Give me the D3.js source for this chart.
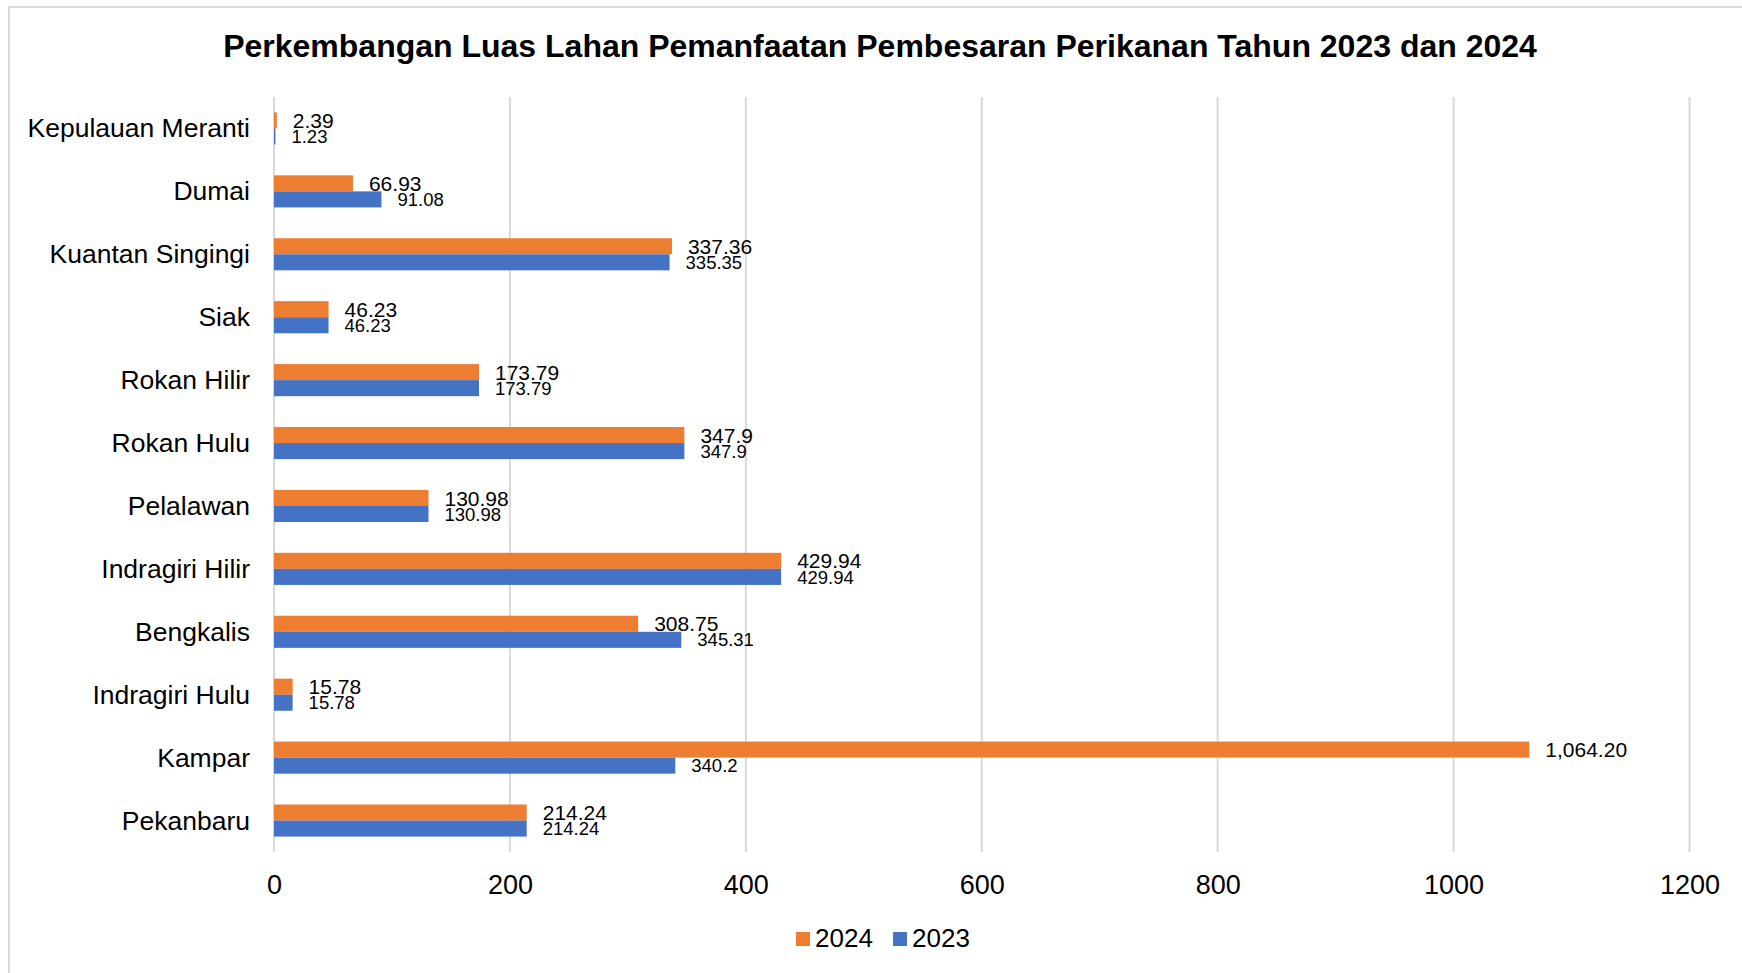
<!DOCTYPE html>
<html>
<head>
<meta charset="utf-8">
<script src="https://cdn.jsdelivr.net/npm/d3@7"></script>
<style>
  body { margin: 0; background: #fff; }
  text { font-family: "Liberation Sans", Arial, sans-serif; fill: #000; }
</style>
</head>
<body>
<div id="chart"></div>
<script>
// data, top to bottom as in the chart
const categories = ["Kepulauan Meranti", "Dumai", "Kuantan Singingi", "Siak", "Rokan Hilir", "Rokan Hulu",
  "Pelalawan", "Indragiri Hilir", "Bengkalis", "Indragiri Hulu", "Kampar", "Pekanbaru"];
const values2024 = [2.39, 66.93, 337.36, 46.23, 173.79, 347.9, 130.98, 429.94, 308.75, 15.78, 1064.20, 214.24];
const values2023 = [1.23, 91.08, 335.35, 46.23, 173.79, 347.9, 130.98, 429.94, 345.31, 15.78, 340.2, 214.24];
const labels2024 = ["2.39", "66.93", "337.36", "46.23", "173.79", "347.9", "130.98", "429.94", "308.75", "15.78", "1,064.20", "214.24"];
const labels2023 = ["1.23", "91.08", "335.35", "46.23", "173.79", "347.9", "130.98", "429.94", "345.31", "15.78", "340.2", "214.24"];
const seriesNames = ["2024", "2023"];
const xTicks = [0, 200, 400, 600, 800, 1000, 1200];

const W = 1742, H = 973;
const colors = {"2024": "#ED7D31", "2023": "#4472C4"};

const svg = d3.select("#chart").append("svg")
    .attr("width", W)
    .attr("height", H);

// outer frame (runs off the right/bottom edge like the screenshot)
svg.append("rect")
    .attr("x", 9).attr("y", 7)
    .attr("width", W + 20).attr("height", H + 20)
    .attr("fill", "#fff")
    .attr("stroke", "#d9d9d9")
    .attr("stroke-width", 2);

svg.append("text")
    .attr("x", 880).attr("y", 57)
    .attr("text-anchor", "middle")
    .style("font-size", "32px")
    .style("font-weight", "bold")
    .text("Perkembangan Luas Lahan Pemanfaatan Pembesaran Perikanan Tahun 2023 dan 2024");

const plotTop = 97, plotBottom = 852;

const x = d3.scaleLinear()
    .domain([0, 1200])
    .range([274, 1689.5]);

const y = d3.scaleBand()
    .domain(categories)
    .range([plotTop, plotBottom])
    .paddingInner(0.49)
    .paddingOuter(0.245);

const ySub = d3.scaleBand()
    .domain(seriesNames)
    .range([0, y.bandwidth()]);

// gridlines
svg.append("g")
    .selectAll("line")
    .data(xTicks)
    .join("line")
    .attr("x1", d => x(d)).attr("x2", d => x(d))
    .attr("y1", plotTop).attr("y2", plotBottom)
    .attr("stroke", "#d9d9d9")
    .attr("stroke-width", 2);

// x axis labels
const xAxis = svg.append("g")
    .attr("transform", `translate(0, ${plotBottom})`)
    .call(d3.axisBottom(x).tickValues(xTicks).tickSize(0).tickPadding(42).tickFormat(d3.format("d")));
xAxis.select(".domain").remove();
xAxis.selectAll("text").style("font-size", "27px").attr("dy", 0);

// category labels
const yAxis = svg.append("g")
    .attr("transform", `translate(250, 0)`)
    .call(d3.axisLeft(y).tickSize(0).tickPadding(0));
yAxis.select(".domain").remove();
yAxis.selectAll("text")
    .style("font-size", "26.5px")
    .attr("dy", "0.34em");

// bars
const rows = categories.map((c, i) => ({
  cat: c,
  vals: [
    {key: "2024", v: values2024[i], label: labels2024[i]},
    {key: "2023", v: values2023[i], label: labels2023[i]}
  ]
}));

const groups = svg.append("g")
    .selectAll("g")
    .data(rows)
    .join("g")
    .attr("transform", d => `translate(0, ${y(d.cat)})`);

groups.selectAll("rect")
    .data(d => d.vals)
    .join("rect")
    .attr("x", x(0))
    .attr("y", d => ySub(d.key))
    .attr("width", d => x(d.v) - x(0))
    .attr("height", ySub.bandwidth())
    .attr("fill", d => colors[d.key]);

groups.selectAll("text")
    .data(d => d.vals)
    .join("text")
    .attr("x", d => x(d.v) + 16)
    .attr("y", d => ySub(d.key) + ySub.bandwidth() / 2)
    .attr("dy", "0.36em")
    .style("font-size", d => d.key === "2024" ? "21px" : "18.5px")
    .text(d => d.label);

// legend
const legend = svg.append("g")
    .selectAll("g")
    .data(seriesNames)
    .join("g")
    .attr("transform", (d, i) => `translate(${796 + i * 97}, 932)`);
legend.append("rect")
    .attr("width", 14).attr("height", 14)
    .attr("fill", d => colors[d]);
legend.append("text")
    .attr("x", 19).attr("y", 14.5)
    .style("font-size", "26px")
    .text(d => d);
</script>
</body>
</html>
